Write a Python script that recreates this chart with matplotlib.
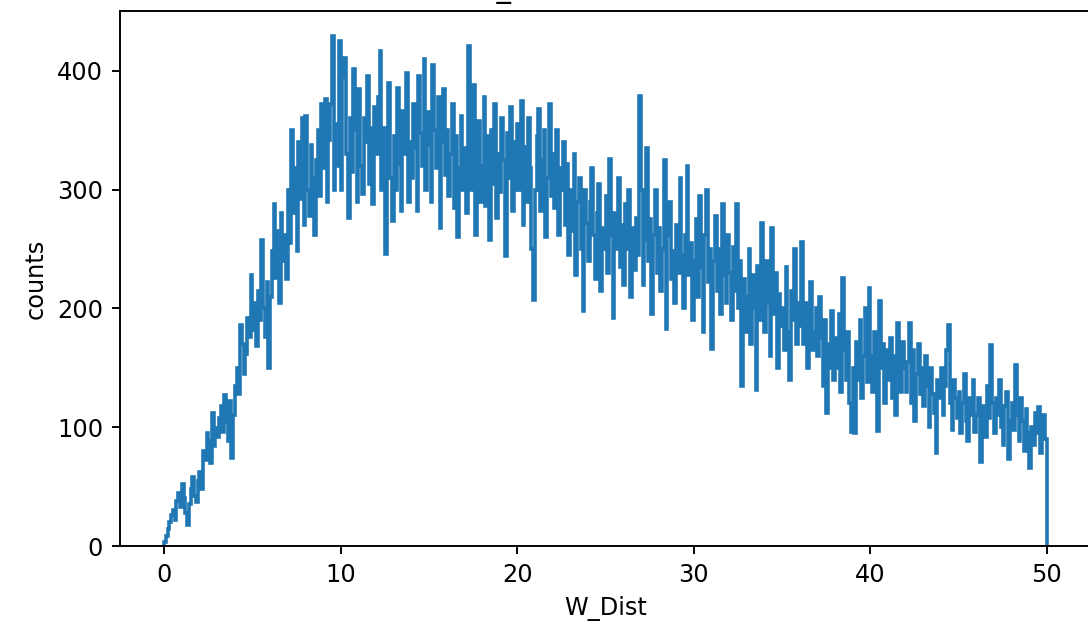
import numpy as np
import matplotlib
matplotlib.use("Agg")
import matplotlib.pyplot as plt

# bin range and counts per 0.1-wide bin of W_Dist
x_min = 0.0
x_max = 50.0
counts = [
    3, 8, 14, 20, 26, 30, 22, 38, 45, 33,
    52, 40, 28, 18, 35, 48, 58, 42, 37, 55,
    62, 48, 80, 72, 95, 88, 70, 112, 84, 99,
    92, 108, 118, 96, 127, 104, 88, 122, 74, 110,
    135, 150, 128, 186, 170, 145, 162, 192, 176, 228,
    182, 205, 168, 215, 190, 258, 200, 176, 222, 150,
    210, 248, 288, 226, 265, 205, 280, 240, 262, 225,
    300, 255, 350, 280, 318, 248, 340, 292, 360, 270,
    362, 300, 278, 338, 310, 262, 325, 350, 295, 372,
    318, 376, 290, 342, 372, 429, 300, 355, 320, 425,
    300, 395, 411, 330, 276, 360, 315, 402, 350, 290,
    385, 320, 296, 360, 340, 396, 305, 352, 288, 370,
    330, 378, 417, 300, 352, 246, 338, 390, 310, 274,
    345, 300, 386, 322, 282, 366, 330, 398, 290, 340,
    310, 372, 335, 282, 396, 348, 320, 410, 300, 365,
    338, 290, 405, 350, 318, 378, 268, 340, 385, 312,
    350, 295, 330, 372, 285, 345, 260, 318, 362, 300,
    335, 280, 421, 352, 300, 388, 262, 330, 358, 290,
    320, 378, 286, 345, 258, 350, 305, 372, 276, 330,
    298, 360, 325, 244, 348, 310, 370, 282, 340, 300,
    355, 300, 375, 270, 336, 290, 360, 318, 250, 207,
    300, 345, 368, 282, 325, 350, 260, 310, 372, 295,
    330, 285, 350, 262, 318, 300, 340, 270, 322, 245,
    300, 265, 330, 228, 290, 310, 250, 198, 300, 272,
    240, 290, 318, 262, 225, 280, 305, 215, 268, 250,
    295, 230, 326, 262, 192, 280, 250, 310, 235, 270,
    220, 288, 250, 300, 210, 268, 232, 276, 245, 379,
    300, 220, 258, 335, 240, 275, 195, 262, 300, 230,
    268, 215, 250, 325, 183, 262, 290, 225, 248, 205,
    270, 230, 310, 245, 200, 262, 320, 228, 255, 190,
    240, 275, 210, 295, 235, 180, 262, 300, 222, 250,
    166, 240, 278, 215, 250, 195, 288, 228, 205, 262,
    230, 190, 252, 215, 288, 200, 240, 135, 225, 180,
    210, 250, 170, 228, 200, 131, 236, 190, 272, 215,
    180, 240, 205, 160, 268, 195, 230, 150, 212, 185,
    200, 165, 235, 180, 140, 215, 190, 250, 170, 205,
    185, 256, 170, 205, 150, 192, 222, 165, 180, 200,
    160, 210, 175, 135, 190, 112, 170, 150, 198, 140,
    175, 150, 195, 130, 226, 165, 140, 180, 120, 96,
    150, 95, 172, 140, 190, 125, 160, 200, 138, 217,
    160, 130, 180, 145, 97, 206, 150, 170, 120, 165,
    140, 175, 125, 160, 110, 188, 145, 130, 172, 150,
    130, 155, 188, 120, 165, 105, 145, 170, 128, 150,
    118, 160, 135, 100, 150, 128, 112, 78, 140, 125,
    150, 110, 135, 165, 186, 120, 98, 140, 125, 108,
    130, 95, 120, 145, 105, 88, 125, 110, 140, 96,
    110, 125, 71, 100, 118, 92, 135, 108, 169, 120,
    95, 125, 110, 140, 100, 85, 118, 130, 73, 105,
    120, 98, 152, 110, 88, 125, 105, 80, 115, 95,
    66, 100, 85, 112, 95, 117, 78, 105, 110, 90,
]

counts = np.array(counts, dtype=float)
edges = np.linspace(x_min, x_max, len(counts) + 1)
centers = (edges[:-1] + edges[1:]) / 2

fig = plt.figure(figsize=(1088 / 173, 630 / 173), dpi=173)
ax = fig.add_axes([120 / 1088, 84 / 630, 971 / 1088, 535 / 630])

ax.hist(centers, bins=edges, weights=counts, histtype="step",
        color="#1f77b4", linewidth=1.5)
ax.set_xlabel("W_Dist")
ax.set_ylabel("counts")
# title sits mostly above the visible area, as in the reference
ax.set_title("W_Dist distribution")

fig.savefig("out.png", dpi=173)
